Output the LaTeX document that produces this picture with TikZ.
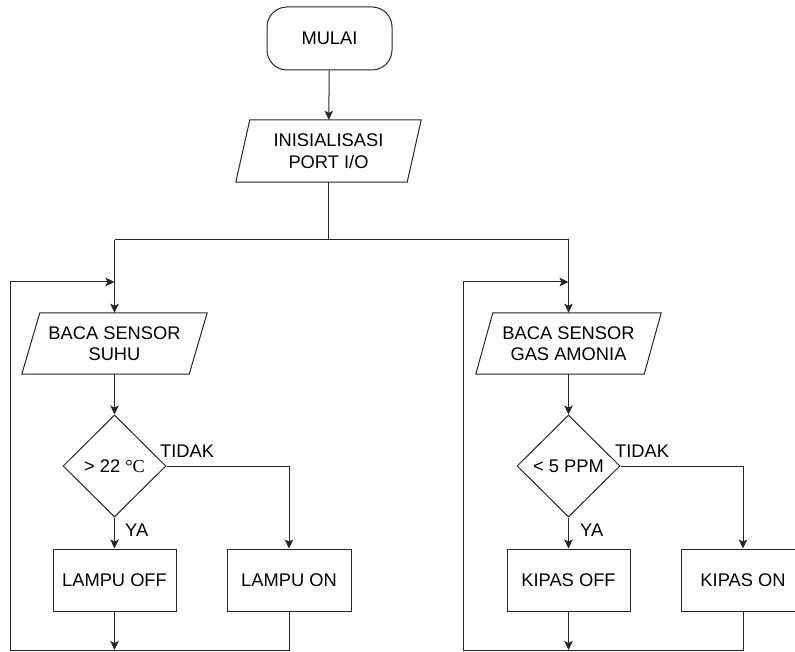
\documentclass[tikz,border=0pt]{standalone}
\usepackage{fontspec}
\setmainfont{Liberation Sans}
\newfontfamily\serifcel{Liberation Serif}
\usetikzlibrary{shapes.geometric,arrows.meta}
\begin{document}
\begin{tikzpicture}[x=1pt,y=-1pt,
  font=\fontsize{18.3}{21.5}\selectfont,
  line/.style={draw=black!85,line width=1pt},
  arr/.style={line,-{Stealth[length=9pt,width=8.5pt,inset=2pt]}},
  ptext/.style={inner sep=0pt,align=center,minimum height=#1},
  procbox/.style={draw=black!85,line width=1pt,minimum width=123pt,minimum height=62pt,inner sep=0pt},
  decbox/.style={diamond,draw=black!85,line width=1pt,minimum width=103pt,minimum height=102pt,inner sep=0pt},
  lbl/.style={inner sep=0pt,anchor=west}
]
\useasboundingbox (0,0) rectangle (795,652);
\clip (0,0) rectangle (795,652);

% start
\node[draw=black!85,line width=1pt,rounded corners=20pt,minimum width=125pt,minimum height=63pt,inner sep=0pt] (mulai) at (329.5,38.5) {MULAI};

% init parallelogram
\node[ptext=62pt,minimum width=185pt] (init) at (328.5,151) {INISIALISASI\\PORT I/O};
\draw[line] ([xshift=14pt]init.north west) -- (init.north east) -- ([xshift=-14pt]init.south east) -- (init.south west) -- cycle;

% sensor parallelograms
\node[ptext=61pt,minimum width=185pt] (suhu) at (114.5,343.5) {BACA SENSOR\\SUHU};
\draw[line] ([xshift=18pt]suhu.north west) -- (suhu.north east) -- ([xshift=-18pt]suhu.south east) -- (suhu.south west) -- cycle;
\node[ptext=61pt,minimum width=185pt] (gas) at (568.5,343.5) {BACA SENSOR\\GAS AMONIA};
\draw[line] ([xshift=17pt]gas.north west) -- (gas.north east) -- ([xshift=-17pt]gas.south east) -- (gas.south west) -- cycle;

% decisions
\node[decbox] (d1) at (114.5,466) {> 22 {\serifcel °C}};
\node[decbox] (d2) at (568.5,466) {< 5 PPM};

% processes
\node[procbox] (loff) at (114.5,580) {LAMPU OFF};
\node[procbox,minimum width=124pt] (lon) at (289,580) {LAMPU ON};
\node[procbox] (koff) at (568.5,580) {KIPAS OFF};
\node[procbox,minimum width=124pt] (kon) at (743,580) {KIPAS ON};

% junction coordinates
\coordinate (j) at (328.5,240);
\coordinate (jl) at (114.5,240);
\coordinate (jr) at (568.5,240);
\coordinate (rl) at (114.5,282);
\coordinate (rr) at (568.5,282);
\coordinate (bl) at (114.5,650);
\coordinate (br) at (568.5,650);

% main flow
\draw[arr] (mulai) -- (init);
\draw[line] (init.south) -- (j);
\draw[line] (jl) -- (jr);
\draw[arr] (jl) -- (suhu.north);
\draw[arr] (jr) -- (gas.north);
\draw[arr] (suhu.south) -- (d1.north);
\draw[arr] (gas.south) -- (d2.north);

% left decision
\draw[arr] (d1.south) -- (loff.north);
\draw[arr] (d1.east) -| (lon.north);
\node[lbl] at (160,451) {TIDAK};
\node[lbl] at (125,530) {YA};

% right decision
\draw[arr] (d2.south) -- (koff.north);
\draw[arr] (d2.east) -| (kon.north);
\node[lbl] at (615,451) {TIDAK};
\node[lbl] at (580,530) {YA};

% loops
\draw[arr] (loff.south) -- (bl);
\draw[line] (lon.south) |- (10,650) -- (10,282);
\draw[arr] (10,282) -- (rl);
\draw[arr] (koff.south) -- (br);
\draw[line] (kon.south) |- (463,650) -- (463,282);
\draw[arr] (463,282) -- (rr);
\end{tikzpicture}
\end{document}
